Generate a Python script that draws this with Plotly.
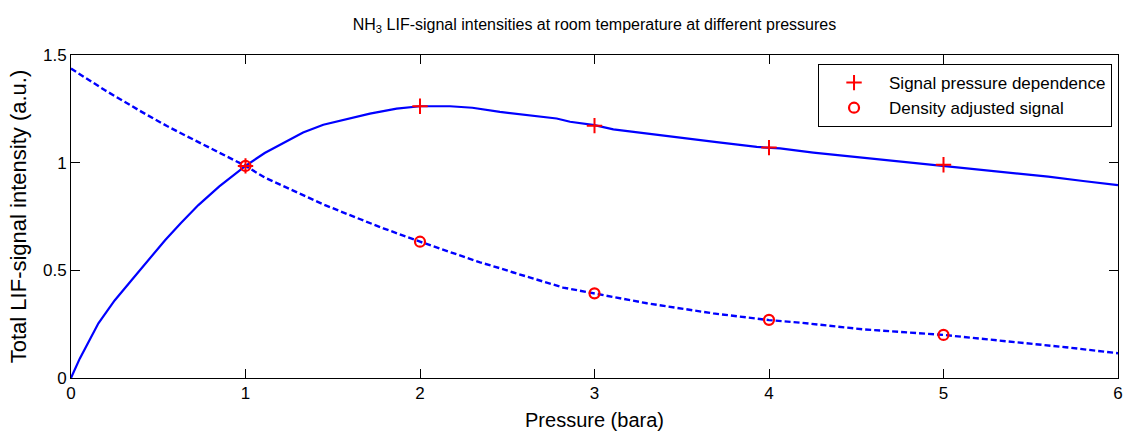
import plotly.graph_objects as go

# Measured LIF-signal intensity vs. pressure (continuous curve)
pressure_signal = [0.00, 0.05, 0.157, 0.25, 0.348, 0.45, 0.539, 0.63, 0.73, 0.85,
                   1.00, 1.11, 1.217, 1.33, 1.446, 1.58, 1.713, 1.866, 2.00, 2.172,
                   2.30, 2.458, 2.60, 2.783, 2.86, 3.00, 3.108, 3.30, 3.49, 3.70,
                   3.93, 4.063, 4.254, 4.40, 4.54, 4.70, 4.827, 5.00, 5.20, 5.40,
                   5.60, 5.80, 6.00]
signal = [0.000, 0.090, 0.254, 0.360, 0.455, 0.555, 0.640, 0.720, 0.803, 0.890,
          0.985, 1.045, 1.092, 1.140, 1.176, 1.203, 1.228, 1.251, 1.262, 1.262,
          1.255, 1.236, 1.222, 1.205, 1.190, 1.174, 1.155, 1.135, 1.115, 1.095,
          1.073, 1.066, 1.047, 1.035, 1.022, 1.010, 1.001, 0.987, 0.970, 0.953,
          0.935, 0.915, 0.896]

# Density-adjusted signal (continuous curve)
pressure_density = [0.00, 0.195, 0.405, 0.55, 0.69, 0.85, 1.00, 1.11, 1.312, 1.45,
                    1.599, 1.79, 2.00, 2.248, 2.344, 2.458, 2.535, 2.82, 3.00, 3.30,
                    3.68, 4.00, 4.18, 4.54, 5.00, 5.40, 5.70, 6.00]
density_signal = [1.437, 1.336, 1.236, 1.170, 1.112, 1.045, 0.985, 0.931, 0.857, 0.805,
                  0.756, 0.695, 0.633, 0.563, 0.537, 0.510, 0.490, 0.420, 0.393, 0.347,
                  0.300, 0.269, 0.257, 0.226, 0.200, 0.169, 0.143, 0.115]

# Discrete measurement points
pressure_points = [1, 2, 3, 4, 5]
signal_points = [0.985, 1.262, 1.172, 1.070, 0.990]
density_points = [0.985, 0.633, 0.393, 0.270, 0.200]

x_ticks = [0, 1, 2, 3, 4, 5, 6]
y_ticks = [0, 0.5, 1, 1.5]
y_tick_text = ["0", "0.5", "1", "1.5"]

BLUE = "#0000ff"
RED = "#ff0000"
FONT = "Liberation Sans, Arial, sans-serif"

fig = go.Figure()

fig.add_trace(go.Scatter(x=pressure_signal, y=signal, mode="lines",
                         line=dict(color=BLUE, width=2.2), showlegend=False,
                         hoverinfo="skip"))
fig.add_trace(go.Scatter(x=pressure_density, y=density_signal, mode="lines",
                         line=dict(color=BLUE, width=2.4, dash="6px,3px"),
                         showlegend=False, hoverinfo="skip"))

fig.add_trace(go.Scatter(x=pressure_points, y=signal_points, mode="markers",
                         name="Signal pressure dependence",
                         marker=dict(symbol="cross-thin", size=11,
                                     line=dict(color=RED, width=2), color=RED)))
fig.add_trace(go.Scatter(x=pressure_points, y=density_points, mode="markers",
                         name="Density adjusted signal",
                         marker=dict(symbol="circle-open", size=10,
                                     line=dict(color=RED, width=2.2), color=RED)))

axis_common = dict(showline=True, linecolor="black", linewidth=1, mirror="ticks",
                   ticks="inside", ticklen=9, tickwidth=1, tickcolor="black",
                   showgrid=False, zeroline=False, automargin=False,
                   tickfont=dict(family=FONT, size=17, color="black"))

fig.update_xaxes(range=[0, 6], tickvals=x_ticks,
                 title=dict(text="Pressure (bara)", standoff=12,
                            font=dict(family=FONT, size=20, color="black")),
                 **axis_common)
fig.update_yaxes(range=[0, 1.5], tickvals=y_ticks, ticktext=y_tick_text,
                 title=dict(text="Total LIF-signal intensity (a.u.)", standoff=10,
                            font=dict(family=FONT, size=22, color="black")),
                 **axis_common)

fig.update_layout(
    width=1123, height=431,
    margin=dict(l=71, r=5, t=55, b=53),
    paper_bgcolor="white", plot_bgcolor="white",
    title=dict(text="NH<sub>3</sub> LIF-signal intensities at room temperature at different pressures",
               x=0.5, xref="paper", xanchor="center",
               y=1 - 24 / 431, yref="container", yanchor="middle",
               font=dict(family=FONT, size=16, color="black")),
    legend=dict(x=0.9943, y=0.972, xanchor="right", yanchor="top",
                bgcolor="white", bordercolor="black", borderwidth=1,
                font=dict(family=FONT, size=17, color="black"),
                itemwidth=60, tracegroupgap=0),
    showlegend=True,
)

fig.write_html("out.html")
